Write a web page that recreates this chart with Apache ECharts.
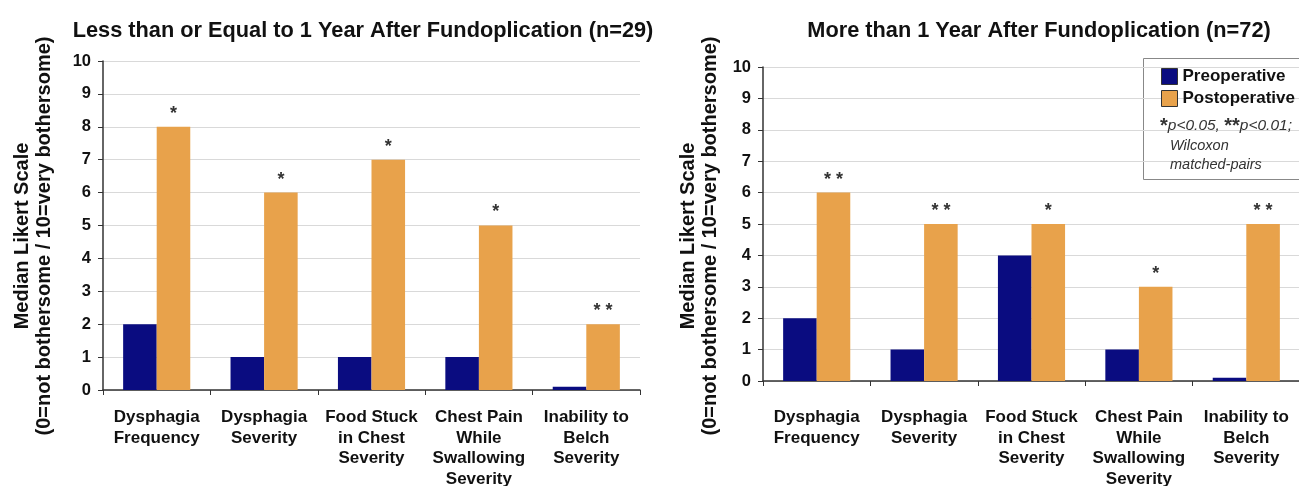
<!DOCTYPE html>
<html>
<head>
<meta charset="utf-8">
<script src="https://cdn.jsdelivr.net/npm/echarts@6/dist/echarts.min.js"></script>
<style>
  html, body { margin: 0; padding: 0; background: #ffffff; }
  #chart { width: 1299px; height: 486px; }
</style>
</head>
<body>
<div id="chart"></div>
<script>
// Symptom categories shared by both panels
const categories = [
  'Dysphagia\nFrequency',
  'Dysphagia\nSeverity',
  'Food Stuck\nin Chest\nSeverity',
  'Chest Pain\nWhile\nSwallowing\nSeverity',
  'Inability to\nBelch\nSeverity'
];

// Median Likert scores, ≤1 year after fundoplication (n=29)
const preEarly = [2, 1, 1, 1, 0.1];
const postEarly = [8, 6, 7, 5, 2];
const sigEarly = ['*', '*', '*', '*', '**'];

// Median Likert scores, >1 year after fundoplication (n=72)
const preLate = [2, 1, 4, 1, 0.1];
const postLate = [6, 5, 5, 3, 5];
const sigLate = ['**', '**', '*', '*', '**'];

const panelTitles = [
  'Less than or Equal to 1 Year After Fundoplication (n=29)',
  'More than 1 Year After Fundoplication (n=72)'
];
const axisNameLines = ['Median Likert Scale', '(0=not bothersome / 10=very bothersome)'];
const seriesNames = ['Preoperative', 'Postoperative'];
const noteLines = ['{s|*}{p|p<0.05, }{s|**}{p|p<0.01;}', '{i|Wilcoxon}', '{i|matched-pairs}'];

const NAVY = '#0a0c80';
const ORANGE = '#e8a24b';
const INK = '#111111';
const FONT = 'Liberation Sans, Arial, sans-serif';

function starText(s) { return s.split('').join(' '); }

function xAxisFor(gridIndex, margin) {
  return {
    type: 'category', gridIndex, data: categories,
    axisLine: { lineStyle: { color: '#333', width: 1.5 } },
    axisTick: { show: true, length: 5, lineStyle: { color: '#333' } },
    axisLabel: {
      interval: 0, margin, color: INK, fontFamily: FONT, fontWeight: 'bold',
      fontSize: 17, lineHeight: 20.7
    }
  };
}

function yAxisFor(gridIndex) {
  return {
    type: 'value', gridIndex, min: 0, max: 10, interval: 1,
    axisLine: { show: true, lineStyle: { color: '#333', width: 1.5 } },
    axisTick: { show: true, length: 5, lineStyle: { color: '#333' } },
    axisLabel: { margin: 12, color: INK, fontFamily: FONT, fontWeight: 'bold', fontSize: 16.5 },
    splitLine: { lineStyle: { color: '#d9d9d9', width: 1.2 } }
  };
}

function barPair(axisIndex, pre, post, sig) {
  return [
    {
      name: seriesNames[0], type: 'bar', xAxisIndex: axisIndex, yAxisIndex: axisIndex,
      data: pre, barGap: '0%', barCategoryGap: '37.5%',
      itemStyle: { color: NAVY }
    },
    {
      name: seriesNames[1], type: 'bar', xAxisIndex: axisIndex, yAxisIndex: axisIndex,
      data: post, barGap: '0%', barCategoryGap: '37.5%',
      itemStyle: { color: ORANGE },
      label: {
        show: true, position: 'top', distance: 4,
        formatter: p => starText(sig[p.dataIndex]),
        color: '#333', fontFamily: FONT, fontWeight: 'bold', fontSize: 18
      }
    }
  ];
}

function axisName(cx, cy) {
  return axisNameLines.map((t, i) => ({
    type: 'text', x: cx + i * 22, y: cy, rotation: Math.PI / 2,
    style: {
      text: t, fill: INK, font: 'bold 20px ' + FONT,
      textAlign: 'center', textVerticalAlign: 'middle'
    }
  }));
}

function noteText(line, x, y) {
  return {
    type: 'text', x, y, z: 10,
    style: {
      text: line, textVerticalAlign: 'middle',
      rich: {
        s: { font: 'bold 20px ' + FONT, fill: '#333', verticalAlign: 'top' },
        p: { font: 'italic 15.5px ' + FONT, fill: '#333' },
        i: { font: 'italic 14.5px ' + FONT, fill: '#333' }
      }
    }
  };
}

const chart = echarts.init(document.getElementById('chart'), null, { renderer: 'canvas' });

chart.setOption({
  animation: false,
  backgroundColor: '#ffffff',
  title: [
    { text: panelTitles[0], left: 358, top: 15, textAlign: 'center',
      textStyle: { fontFamily: FONT, fontWeight: 'bold', fontSize: 21.75, color: INK } },
    { text: panelTitles[1], left: 1034, top: 15, textAlign: 'center',
      textStyle: { fontFamily: FONT, fontWeight: 'bold', fontSize: 21.75, color: INK } }
  ],
  grid: [
    { left: 103, top: 61, width: 537, height: 329, containLabel: false, outerBoundsMode: 'none' },
    { left: 763, top: 67, width: 537, height: 314, containLabel: false, outerBoundsMode: 'none' }
  ],
  xAxis: [xAxisFor(0, 17), xAxisFor(1, 26)],
  yAxis: [yAxisFor(0), yAxisFor(1)],
  legend: {
    data: seriesNames, orient: 'vertical', left: 1161, top: 68, padding: 0,
    itemWidth: 16, itemHeight: 16, itemGap: 5, icon: 'rect',
    itemStyle: { borderColor: '#333', borderWidth: 1 },
    textStyle: { fontFamily: FONT, fontWeight: 'bold', fontSize: 17, color: INK }
  },
  graphic: [
    { type: 'rect', shape: { x: 1143.5, y: 58.5, width: 170, height: 121 },
      style: { fill: '#ffffff', stroke: '#888', lineWidth: 1 }, z: 0 },
    noteText(noteLines[0], 1160, 126),
    noteText(noteLines[1], 1170, 146),
    noteText(noteLines[2], 1170, 165),
    ...axisName(22, 236),
    ...axisName(688, 236)
  ],
  series: [
    ...barPair(0, preEarly, postEarly, sigEarly),
    ...barPair(1, preLate, postLate, sigLate)
  ]
});
</script>
</body>
</html>
